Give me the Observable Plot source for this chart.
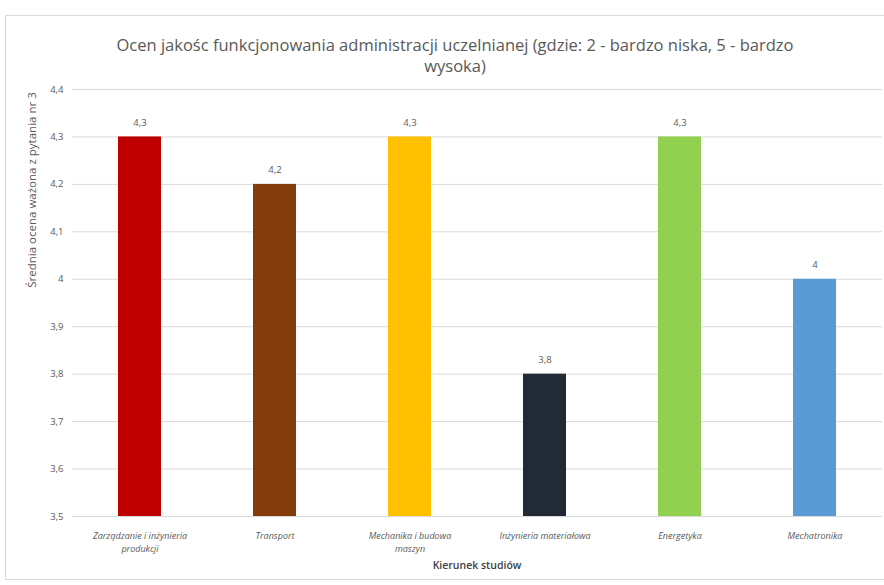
<!DOCTYPE html>
<html><head><meta charset="utf-8">
<script src="https://cdn.jsdelivr.net/npm/d3@7"></script>
<script src="https://cdn.jsdelivr.net/npm/@observablehq/plot@0.6"></script>
<style>
body{margin:0;background:#fff;font-family:"Open Sans",sans-serif;}
#wrap{position:relative;width:884px;height:585px;overflow:hidden;}
#frame{position:absolute;left:5px;top:15px;width:890px;height:565px;border:1px solid #d9d9d9;box-sizing:border-box;}
#title{position:absolute;left:60px;width:790px;top:34px;text-align:center;font-size:16.5px;line-height:21px;color:#595959;}
#ylab{position:absolute;left:31px;top:190px;width:0;height:0;}
#ylab span{position:absolute;transform:translate(-50%,-50%) rotate(-90deg);white-space:nowrap;font-size:11.5px;color:#595959;}
#xlab{position:absolute;left:72px;width:810px;top:558px;text-align:center;font-size:10.5px;font-weight:600;color:#404040;}
#chart{position:absolute;left:0;top:0;}
#chart g[aria-label="x-axis tick label"] text{font-style:italic;}
</style></head>
<body><div id="wrap"><div id="frame"></div><div id="chart"></div>
<div id="title">Ocen jakośc funkcjonowania administracji uczelnianej (gdzie: 2 - bardzo niska, 5 - bardzo<br>wysoka)</div>
<div id="ylab"><span>Średnia ocena ważona z pytania nr 3</span></div>
<div id="xlab">Kierunek studiów</div>
</div>
<script>
const categories = ["Zarządzanie i inżynieria produkcji","Transport","Mechanika i budowa maszyn","Inżynieria materiałowa","Energetyka","Mechatronika"];
const tickLabels = ["Zarządzanie i inżynieria\nprodukcji","Transport","Mechanika i budowa\nmaszyn","Inżynieria materiałowa","Energetyka","Mechatronika"];
const values = [4.3, 4.2, 4.3, 3.8, 4.3, 4.0];
const colors = ["#C00000","#843C0C","#FFC000","#222A35","#92D050","#5B9BD5"];
const yTicks = [3.5,3.6,3.7,3.8,3.9,4.0,4.1,4.2,4.3,4.4];

const data = categories.map((c,i)=>({cat:c, value:values[i], color:colors[i]}));
const fmt = v => String(+v.toFixed(1)).replace(".", ",");
const labelOf = Object.fromEntries(categories.map((c,i)=>[c,tickLabels[i]]));

const chart = Plot.plot({
  width: 884, height: 585,
  marginTop: 89, marginBottom: 69, marginLeft: 72, marginRight: 2,
  style: {fontFamily: '"Open Sans", sans-serif', background: "transparent"},
  x: {domain: categories, paddingInner: 0.68, paddingOuter: 0.34, label: null},
  y: {domain: [3.5, 4.4], label: null},
  marks: [
    Plot.ruleY(yTicks, {stroke: "#d9d9d9", strokeWidth: 1}),
    Plot.barY(data, {x: "cat", y1: 3.5, y2: "value", fill: "color"}),
    Plot.text(data, {x: "cat", y: "value", text: d => fmt(d.value), dy: -14, fill: "#595959", fontSize: 9.5}),
    Plot.axisY({ticks: yTicks, tickFormat: fmt, tickSize: 0, tickPadding: 9, fontSize: 9.5, color: "#595959", label: null}),
    Plot.axisX({tickFormat: d => labelOf[d], tickSize: 0, tickPadding: 13, fontSize: 9, color: "#595959", label: null, lineHeight: 1.45})
  ]
});
document.getElementById("chart").append(chart);
</script></body></html>
